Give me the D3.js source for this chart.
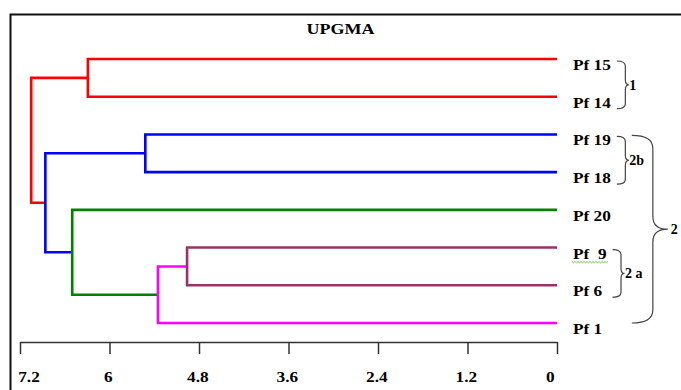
<!DOCTYPE html>
<html>
<head>
<meta charset="utf-8">
<script src="https://cdn.jsdelivr.net/npm/d3@7"></script>
<style>
  body { margin: 0; background: #fff; }
  text { font-family: "Liberation Serif", "Times New Roman", serif; font-weight: bold; fill: #000; white-space: pre; }
</style>
</head>
<body>
<div id="chart"></div>
<script>
// leaves, top to bottom
const leaves = ["Pf 15", "Pf 14", "Pf 19", "Pf 18", "Pf 20", "Pf  9", "Pf 6", "Pf 1"];

// cluster id, first child, second child, distance at join
const joins = [
  ["c1", "Pf 15", "Pf 14", 6.29],
  ["c2", "Pf 19", "Pf 18", 5.52],
  ["c3", "Pf  9", "Pf 6", 4.96],
  ["c4", "c3", "Pf 1", 5.35],
  ["c5", "Pf 20", "c4", 6.50],
  ["c6", "c2", "c5", 6.86],
  ["c7", "c1", "c6", 7.05]
];

const tickValues = [7.2, 6, 4.8, 3.6, 2.4, 1.2, 0];

// bracket groups
const groupLabels = ["1", "2b", "2 a", "2"];
const groupFrom = ["Pf 15", "Pf 19", "Pf  9", "Pf 19"];
const groupTo = ["Pf 14", "Pf 18", "Pf 6", "Pf 1"];

const clusterColor = {
  c7: "#ff0000", c1: "#ff0000",
  c6: "#0000ff", c2: "#0000ff",
  c5: "#008000",
  c4: "#ff00ff",
  c3: "#993366"
};

const width = 681, height = 390;

const svg = d3.select("#chart").append("svg")
  .attr("width", width)
  .attr("height", height);

// frame (runs off the right and bottom edge like the scan)
svg.append("path")
  .attr("d", "M10.5,400V14.5H700")
  .attr("fill", "none")
  .attr("stroke", "#111")
  .attr("stroke-width", 2);

svg.append("text")
  .attr("transform", "translate(340.5,34) scale(1.2,1)")
  .attr("text-anchor", "middle")
  .style("font-size", "15px")
  .text("UPGMA");

const x = d3.scaleLinear().domain([7.2, 0]).range([20, 557]);
const y = d3.scalePoint().domain(leaves).range([59, 323]);

// build tree
const nodes = new Map();
leaves.forEach(n => nodes.set(n, { name: n, dist: 0 }));
joins.forEach(([id, a, b, d]) => nodes.set(id, { name: id, dist: d, children: [nodes.get(a), nodes.get(b)] }));
const root = d3.hierarchy(nodes.get(joins[joins.length - 1][0]));

root.eachAfter(d => {
  d.px = x(d.data.dist);
  d.py = d.children ? d3.mean(d.children, c => c.py) : y(d.data.name);
});

// branches, coloured by the parent cluster
svg.append("g")
  .selectAll("path")
  .data(root.descendants().filter(d => d.children))
  .join("path")
  .attr("fill", "none")
  .attr("stroke", d => clusterColor[d.data.name])
  .attr("stroke-width", 2.6)
  .attr("stroke-linejoin", "miter")
  .attr("d", d => {
    const [a, b] = d.children;
    return `M${a.px},${a.py}H${d.px}V${b.py}H${b.px}`;
  });

// leaf labels
const labelX = x(0) + 16;
const leafText = svg.append("g")
  .selectAll("text")
  .data(leaves)
  .join("text")
  .attr("transform", d => `translate(${labelX},${y(d) + 11}) scale(1.15,1)`)
  .style("font-size", "15px")
  .text(d => d);

const labelRight = {};
leafText.each(function(d) {
  labelRight[d] = labelX + this.getComputedTextLength() * 1.15;
});

// spell-check squiggle under "Pf  9"
const sq = "Pf  9";
const sqX0 = labelX - 1, sqX1 = labelRight[sq] + 1, sqY = y(sq) + 14;
let sqPath = `M${sqX0},${sqY}`;
for (let xx = sqX0, i = 0; xx < sqX1; xx += 1.5, i++) {
  sqPath += `L${xx + 1.5},${sqY + (i % 2 ? 0 : 1.2)}`;
}
svg.append("path")
  .attr("d", sqPath)
  .attr("fill", "none")
  .attr("stroke", "#5fb336")
  .attr("stroke-width", 0.8);

// braces
function bracePath(x0, y0, y1, w, tip, r) {
  const xs = x0 + w, ym = (y0 + y1) / 2;
  return `M${x0},${y0}Q${xs},${y0} ${xs},${y0 + r}` +
    `L${xs},${ym - r}Q${xs},${ym} ${xs + tip},${ym}` +
    `Q${xs},${ym} ${xs},${ym + r}` +
    `L${xs},${y1 - r}Q${xs},${y1} ${x0},${y1}`;
}

const maxRight = d3.max(leaves, d => labelRight[d]);
groupLabels.forEach((lab, i) => {
  const big = lab === "2";
  const members = leaves.slice(leaves.indexOf(groupFrom[i]), leaves.indexOf(groupTo[i]) + 1);
  const x0 = big ? maxRight + 21 : d3.max(members, d => labelRight[d]) + 6;
  const y0 = big ? y(groupFrom[i]) + 1 : y(groupFrom[i]) + 2;
  const y1 = big ? y(groupTo[i]) : y(groupTo[i]) + 12;
  const w = big ? 21 : 8.5, tip = big ? 15 : 3.5, r = big ? 13 : 5;
  svg.append("path")
    .attr("d", bracePath(x0, y0, y1, w, tip, r))
    .attr("fill", "none")
    .attr("stroke", "#444")
    .attr("stroke-width", 1.2);
  svg.append("text")
    .attr("x", x0 + w + tip + (big ? 3 : 0.5))
    .attr("y", (y0 + y1) / 2 + 5)
    .style("font-size", "14px")
    .text(lab);
});

// axis
const axis = svg.append("g")
  .attr("transform", "translate(0,342)")
  .call(d3.axisBottom(x).tickValues(tickValues).tickSize(12).tickSizeOuter(0).tickPadding(17)
    .tickFormat(d3.format("")));

axis.select(".domain").attr("stroke", "#333").attr("stroke-width", 1.5);
axis.selectAll(".tick line").attr("stroke", "#333").attr("stroke-width", 1.5);
axis.selectAll(".tick text")
  .attr("fill", "#000")
  .style("font-family", "'Liberation Serif', 'Times New Roman', serif")
  .style("font-weight", "bold")
  .style("font-size", "15px")
  .attr("transform", "scale(1.15,1)")
  .attr("text-anchor", (d, i) => i === 0 ? "start" : i === tickValues.length - 1 ? "end" : "middle")
  .attr("x", (d, i) => i === 0 ? -2 : i === tickValues.length - 1 ? -2.5 : -1.5);
</script>
</body>
</html>
